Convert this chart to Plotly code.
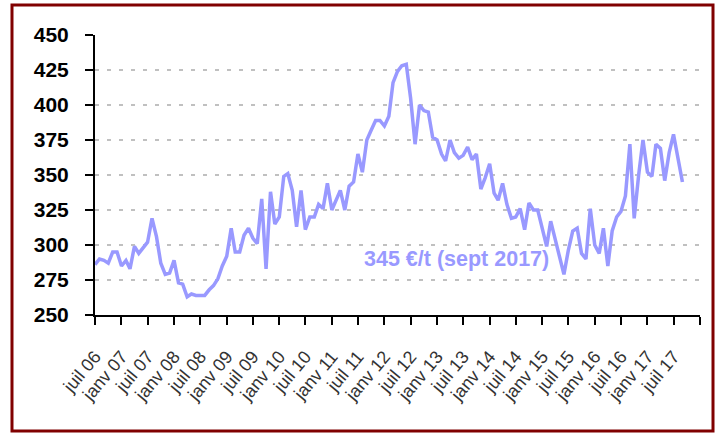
import pandas as pd
import plotly.graph_objects as go

# Monthly price (€/t), July 2006 -> September 2017
months = pd.date_range("2006-07-01", "2017-09-01", freq="MS")
prices = [
    286, 290, 289, 287, 295, 295, 285, 289, 283, 299, 294, 298,
    302, 319, 306, 287, 279, 280, 289, 273, 272, 263, 265, 264,
    264, 264, 268, 271, 276, 285, 292, 312, 295, 295, 307, 312,
    305, 301, 333, 283, 338, 315, 320, 349, 351, 339, 313, 339,
    311, 320, 320, 329, 326, 344, 325, 332, 339, 325, 342, 345,
    365, 352, 375, 382, 389, 389, 385, 392, 416, 424, 428, 429,
    405, 372, 400, 396, 395, 377, 375, 365, 360, 375, 366, 362,
    364, 370, 361, 365, 340, 348, 358, 337, 332, 344, 329, 319,
    320, 326, 311, 330, 325, 325, 313, 299, 317, 304, 291, 279,
    296, 310, 312, 294, 290, 326, 300, 294, 312, 285, 310, 320,
    324, 335, 372, 319, 350, 375, 352, 349, 372, 369, 346, 366,
    379, 361, 345,
]

tick_dates = pd.date_range("2006-07-01", "2018-01-01", freq="6MS")
tick_labels = [
    "juil 06", "janv 07", "juil 07", "janv 08", "juil 08", "janv 09",
    "juil 09", "janv 10", "juil 10", "janv 11", "juil 11", "janv 12",
    "juil 12", "janv 13", "juil 13", "janv 14", "juil 14", "janv 15",
    "juil 15", "janv 16", "juil 16", "janv 17", "juil 17", "",
]
y_ticks = [250, 275, 300, 325, 350, 375, 400, 425, 450]
annotation_text = "345 €/t (sept 2017)"

line_color = "#9999FF"

fig = go.Figure()
fig.add_trace(go.Scatter(
    x=months, y=prices, mode="lines",
    line=dict(color=line_color, width=3.5),
    hoverinfo="x+y", showlegend=False,
))

fig.add_annotation(
    x="2013-05-15", y=290, xref="x", yref="y",
    text=annotation_text, showarrow=False,
    font=dict(family="Liberation Sans, Arial, sans-serif", size=21.5,
              color=line_color, weight="bold"),
)

# Chart-area frame
fig.add_shape(
    type="rect", xref="paper", yref="paper",
    x0=-0.1372, x1=1.0215, y0=-0.414, y1=1.107,
    line=dict(color="#800000", width=3), fillcolor="rgba(0,0,0,0)",
    layer="below",
)

fig.update_layout(
    width=721, height=434,
    margin=dict(l=95, r=21, t=35, b=119),
    paper_bgcolor="white", plot_bgcolor="white",
    font=dict(family="Liberation Sans, Arial, sans-serif", color="black"),
)

fig.update_xaxes(
    type="date", automargin=False,
    range=[tick_dates[0], tick_dates[-1]],
    tickmode="array", tickvals=list(tick_dates), ticktext=tick_labels,
    tickangle=-50,
    tickfont=dict(size=18, color="#333333"),
    ticks="outside", ticklen=8, tickwidth=2, tickcolor="black",
    ticklabelstandoff=14,
    showline=True, linecolor="black", linewidth=2,
    showgrid=False, zeroline=False,
)

fig.update_yaxes(
    range=[250, 450], automargin=False,
    tickmode="array", tickvals=y_ticks,
    tickfont=dict(size=21, color="black", weight="bold"),
    ticks="outside", ticklen=8, tickwidth=2, tickcolor="black",
    ticklabelstandoff=12,
    showline=True, linecolor="black", linewidth=2,
    showgrid=True, gridcolor="#C0C0C0", gridwidth=2, griddash="4px,8px",
    zeroline=False,
)

fig.write_html(
    "out.html",
    config={"displayModeBar": False},
    post_script="document.body.style.margin='0';document.body.style.overflow='hidden';",
)
